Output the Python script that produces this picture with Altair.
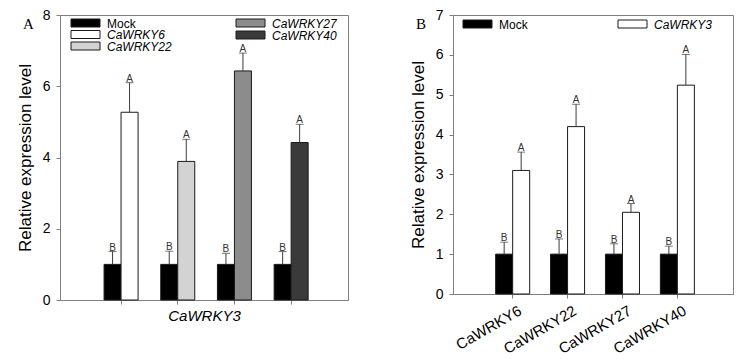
import altair as alt
import pandas as pd

# ---------------- data ----------------
groups = ["CaWRKY6", "CaWRKY22", "CaWRKY27", "CaWRKY40"]

# Panel A: CaWRKY3 expression in Mock vs CaWRKYn-overexpression
a_mock = [1.0, 1.0, 1.0, 1.0]
a_mock_err = [0.36, 0.37, 0.31, 0.36]
a_treat = [5.27, 3.89, 6.43, 4.42]
a_treat_err = [0.83, 0.62, 0.50, 0.51]
a_mock_letters = ["B", "B", "B", "B"]
a_treat_letters = ["A", "A", "A", "A"]
a_series = ["Mock", "CaWRKY6", "CaWRKY22", "CaWRKY27", "CaWRKY40"]
a_colors = ["#000000", "#ffffff", "#d3d3d3", "#8c8c8c", "#3a3a3a"]
a_ticks = [0, 2, 4, 6, 8]

# Panel B: CaWRKYn expression in Mock vs CaWRKY3-overexpression
b_mock = [1.0, 1.0, 1.0, 1.0]
b_mock_err = [0.30, 0.38, 0.26, 0.20]
b_treat = [3.10, 4.20, 2.05, 5.24]
b_treat_err = [0.46, 0.56, 0.22, 0.77]
b_mock_letters = ["B", "B", "B", "B"]
b_treat_letters = ["A", "A", "A", "A"]
b_series = ["Mock", "CaWRKY3"]
b_colors = ["#000000", "#ffffff"]
b_ticks = [0, 1, 2, 3, 4, 5, 6, 7]

FRAME = "#7f7f7f"
SANS = "Liberation Sans"


def build_table(mock, mock_err, treat, treat_err, mletters, tletters, treat_names):
    rows = []
    for i, g in enumerate(groups):
        rows.append(dict(group=g, kind="Mock", series="Mock", value=mock[i],
                         upper=mock[i] + mock_err[i], letter=mletters[i]))
        rows.append(dict(group=g, kind="Treat", series=treat_names[i], value=treat[i],
                         upper=treat[i] + treat_err[i], letter=tletters[i]))
    return pd.DataFrame(rows)


def panel(df, series, colors, ticks, width, height, xaxis, legend_entries, letter, p_inner):
    xscale = alt.Scale(domain=groups, paddingInner=p_inner, paddingOuter=0.74, align=0.525)
    x = alt.X("group:N", scale=xscale, axis=xaxis, sort=groups)
    xo = alt.XOffset("kind:N", sort=["Mock", "Treat"], scale=alt.Scale(paddingInner=0, paddingOuter=0))
    yaxis = alt.Axis(values=ticks, tickCount=len(ticks), title="Relative expression level",
                     grid=False, labelOverlap=False)
    yscale = alt.Scale(domain=[ticks[0], ticks[-1]], nice=False)
    y = alt.Y("value:Q", scale=yscale, axis=yaxis)
    yu = alt.Y("upper:Q", scale=yscale, axis=yaxis)
    base = alt.Chart(df)
    bars = base.mark_bar(stroke="#1a1a1a", strokeWidth=1).encode(
        x=x, xOffset=xo, y=y,
        fill=alt.Fill("series:N", scale=alt.Scale(domain=series, range=colors), legend=None),
    )
    err = base.mark_rule(color="#3c3c3c", strokeWidth=1).encode(
        x=x, xOffset=xo, y=y, y2="upper:Q")
    cap = base.mark_tick(color="#3c3c3c", thickness=1, size=8, orient="horizontal").encode(
        x=x, xOffset=xo, y=yu)
    lab = base.mark_text(baseline="bottom", dy=1, fontSize=10, font=SANS, color="#333333").encode(
        x=x, xOffset=xo, y=yu, text="letter:N")
    layers = [bars, err, cap, lab]
    # legend drawn inside the plot frame
    for (name, italic, col, lx, ly) in legend_entries:
        ldf = pd.DataFrame({"label": [name]})
        layers.append(alt.Chart(ldf).mark_rect(stroke="#1a1a1a", strokeWidth=1).encode(
            x=alt.value(lx), x2=alt.value(lx + 29), y=alt.value(ly - 4), y2=alt.value(ly + 4),
            fill=alt.value(col)))
        layers.append(alt.Chart(ldf).mark_text(align="left", baseline="middle", fontSize=12,
                                               font=SANS, fontStyle="italic" if italic else "normal",
                                               color="#000000").encode(
            x=alt.value(lx + 36), y=alt.value(ly + 0.5), text="label:N"))
    ldf = pd.DataFrame({"label": [letter]})
    layers.append(alt.Chart(ldf).mark_text(align="left", baseline="alphabetic", fontSize=15,
                                           font="Liberation Serif", color="#000000").encode(
        x=alt.value(-37), y=alt.value(14), text="label:N"))
    return alt.layer(*layers).properties(width=width, height=height)


dfA = build_table(a_mock, a_mock_err, a_treat, a_treat_err, a_mock_letters, a_treat_letters, groups)
dfB = build_table(b_mock, b_mock_err, b_treat, b_treat_err, b_mock_letters, b_treat_letters,
                  ["CaWRKY3"] * 4)

xaxisA = alt.Axis(labels=False, title="CaWRKY3", titleFontStyle="italic", titleFontSize=15,
                  titlePadding=4, titleFontWeight="normal")
xaxisB = alt.Axis(labelAngle=-30, labelAlign="right", labelBaseline="top", labelFontSize=15,
                  labelPadding=5, labelOffset=4, title=None)

legA = [
    ("Mock", False, a_colors[0], 11, 8),
    ("CaWRKY6", True, a_colors[1], 11, 19.5),
    ("CaWRKY22", True, a_colors[2], 11, 31),
    ("CaWRKY27", True, a_colors[3], 176, 8),
    ("CaWRKY40", True, a_colors[4], 176, 20),
]
legB = [
    ("Mock", False, b_colors[0], 10, 9),
    ("CaWRKY3", True, b_colors[1], 165, 9),
]

A = panel(dfA, a_series, a_colors, a_ticks, 288, 285, xaxisA, legA, "A", 0.40)
B = panel(dfB, b_series, b_colors, b_ticks, 280, 279, xaxisB, legB, "B", 0.38)

chart = alt.hconcat(A, B, spacing=105, bounds="flush").resolve_scale(
    fill="independent", x="independent", y="independent"
).properties(
    padding={"left": 15, "top": 7, "right": 5, "bottom": 5},
    background="white",
).configure_view(
    stroke=FRAME, strokeWidth=1
).configure_axis(
    domainColor=FRAME, tickColor=FRAME, tickSize=4, labelFont=SANS, titleFont=SANS,
    labelFontSize=14, titleFontSize=17, labelColor="#000000", titleColor="#000000",
    titleFontWeight="normal", labelPadding=6, titlePadding=8, grid=False, labelOverlap=False
)

chart.save("out.html", embed_options={"renderer": "svg", "actions": False})
